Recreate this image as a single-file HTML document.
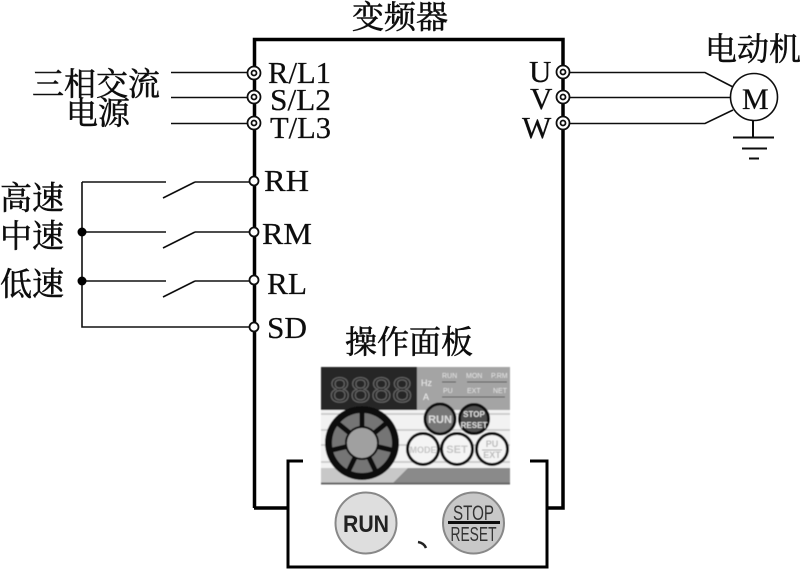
<!DOCTYPE html>
<html><head><meta charset="utf-8"><style>
html,body{margin:0;padding:0;background:#fff}
svg{display:block}
text{fill:#111}
.cn{font-family:"Liberation Serif","Noto Serif CJK SC",serif;font-size:32px;stroke:#111;stroke-width:.55px}
.la{font-family:"Liberation Serif",serif;font-size:31px;stroke:#111;stroke-width:.25px}
</style></head><body>
<svg width="800" height="569" viewBox="0 0 800 569" xmlns="http://www.w3.org/2000/svg">
<defs>
<filter id="b" x="-5%" y="-5%" width="110%" height="110%"><feGaussianBlur stdDeviation="0.6"/></filter>
<filter id="c" x="-5%" y="-5%" width="110%" height="110%"><feGaussianBlur stdDeviation="0.35"/></filter>
</defs>
<rect width="800" height="569" fill="#fff"/>
<g filter="url(#c)">
<!-- inverter box -->
<path d="M254.500 508V39.500H563V508H547M254 508H288" fill="none" stroke="#000" stroke-width="3.500"/>
<path d="M303 461H288V567H547V461H530" fill="none" stroke="#000" stroke-width="3"/>
<!-- input lines -->
<g stroke="#111" stroke-width="1.600" fill="none">
<path d="M171 72.500H247M171 97.500H247M171 123.500H247"/>
<path d="M568 72.500H705L733 87M568 97.500H730M568 123.500H705L733 110"/>
<circle cx="754" cy="97" r="23.500" fill="#fff"/>
<path d="M753 121V137M733 137.500H774M742 148.500H767M749 158.500H759" stroke-width="2"/>
<path d="M82 182H166M195 182H249M82 182V327H249M82 232H166M195 232H249M82 281H166M195 281H249"/>
<path d="M163 198L195 182M163 248L195 232M163 297L195 281"/>
</g>
<circle cx="82" cy="232" r="4.500" fill="#000"/>
<circle cx="82" cy="281" r="4.500" fill="#000"/>
<!-- terminals -->
<g fill="#fff" stroke="#111" stroke-width="1.800">
<circle cx="254" cy="73" r="6.500"/><circle cx="254" cy="73" r="2.500"/>
<circle cx="254" cy="97" r="6.500"/><circle cx="254" cy="97" r="2.500"/>
<circle cx="254" cy="123" r="6.500"/><circle cx="254" cy="123" r="2.500"/>
<circle cx="563" cy="72" r="6.500"/><circle cx="563" cy="72" r="2.500"/>
<circle cx="563" cy="97" r="6.500"/><circle cx="563" cy="97" r="2.500"/>
<circle cx="563" cy="123" r="6.500"/><circle cx="563" cy="123" r="2.500"/>
<circle cx="254" cy="181" r="4.500"/><circle cx="254" cy="232" r="4.500"/>
<circle cx="254" cy="280" r="4.500"/><circle cx="254" cy="327" r="4.500"/>
</g>
<!-- labels -->
<text class="cn" x="352" y="28">变频器</text>
<text class="cn" x="705" y="60">电动机</text>
<text class="cn" x="32" y="95">三相交流</text>
<text class="cn" x="66" y="124">电源</text>
<text class="cn" x="0" y="209">高速</text>
<text class="cn" x="0" y="247">中速</text>
<text class="cn" x="0" y="295">低速</text>
<text class="cn" x="345" y="353">操作面板</text>
<text class="la" x="268" y="83" textLength="63" lengthAdjust="spacingAndGlyphs">R/L1</text>
<text class="la" x="270" y="110" textLength="61" lengthAdjust="spacingAndGlyphs">S/L2</text>
<text class="la" x="270" y="138" textLength="61" lengthAdjust="spacingAndGlyphs">T/L3</text>
<text class="la" x="529" y="82">U</text>
<text class="la" x="530" y="109">V</text>
<text class="la" x="522" y="138">W</text>
<text class="la" x="742" y="109" style="font-size:30px">M</text>
<text class="la" x="264" y="191" textLength="45" lengthAdjust="spacingAndGlyphs">RH</text>
<text class="la" x="262" y="244" textLength="50" lengthAdjust="spacingAndGlyphs">RM</text>
<text class="la" x="267" y="294" textLength="40" lengthAdjust="spacingAndGlyphs">RL</text>
<text class="la" x="267" y="338" textLength="40" lengthAdjust="spacingAndGlyphs">SD</text>
</g>
<!-- panel -->
<g filter="url(#b)">
<rect x="321" y="367" width="189" height="116" fill="#d8d8d8"/>
<rect x="321" y="367" width="96" height="43" fill="#262626"/>
<rect x="417" y="367" width="93" height="43" fill="#a4a4a4"/>
<rect x="321" y="410" width="189" height="58" fill="#f2f2f2"/>
<path d="M321 414H510M321 430H510M321 445H510M321 462H510" stroke="#c4c4c4" stroke-width="1.500"/>
<rect x="321" y="468" width="189" height="15" fill="#c8c8c8"/>
<path d="M393 483L408 468H510V483Z" fill="#8a8a8a"/>
<path d="M321 483.500H510" stroke="#666" stroke-width="2"/>
<text x="329" y="402" textLength="84" style="fill:none;stroke:#626262;stroke-width:1.300px;font-size:36px;font-family:'Liberation Mono',monospace">8888</text>
<g style="font-family:'Liberation Sans',sans-serif;font-size:7px">
<text x="421" y="386" style="fill:#eee;font-size:9px">Hz</text>
<text x="423" y="400" style="fill:#eee;font-size:9px">A</text>
<text x="442" y="378" style="fill:#e4e4e4">RUN</text>
<text x="466" y="378" style="fill:#e4e4e4">MON</text>
<text x="491" y="378" style="fill:#e4e4e4">P.RM</text>
<text x="443" y="393" style="fill:#e4e4e4">PU</text>
<text x="467" y="393" style="fill:#e4e4e4">EXT</text>
<text x="493" y="393" style="fill:#e4e4e4">NET</text>
</g>
<path d="M442 382H456M467 382H507M442 397H505" stroke="#555" stroke-width="1"/>
<!-- dial -->
<circle cx="362" cy="443" r="37" fill="#111"/>
<circle cx="362" cy="443" r="23.500" fill="none" stroke="#757575" stroke-width="13"/>
<g stroke="#111" stroke-width="5">
<path d="M362 443V409"/>
<path d="M362 443L389 421"/>
<path d="M362 443L335 421"/>
<path d="M362 443L396 451"/>
<path d="M362 443L328 451"/>
<path d="M362 443L377 474"/>
<path d="M362 443L347 474"/>
</g>
<circle cx="362" cy="443" r="16" fill="#a0a0a0" stroke="#111" stroke-width="2"/>
<!-- panel buttons -->
<g stroke="#111" stroke-width="3">
<circle cx="440" cy="419" r="15" fill="#777"/>
<circle cx="474" cy="419" r="14.500" fill="#4e4e4e"/>
<circle cx="423" cy="449" r="15.500" fill="#f4f4f4"/>
<circle cx="457" cy="449" r="15.500" fill="#f4f4f4"/>
<circle cx="492" cy="449" r="15.500" fill="#f4f4f4"/>
</g>
<g style="font-family:'Liberation Sans',sans-serif;font-weight:bold" text-anchor="middle">
<text x="440" y="423" style="fill:#ddd;font-size:11px">RUN</text>
<text x="474" y="417" style="fill:#ddd;font-size:8px">STOP</text>
<text x="474" y="428" style="fill:#ddd;font-size:8px">RESET</text>
<text x="423" y="453" style="fill:#c4c4c4;font-size:9px">MODE</text>
<text x="457" y="453" style="fill:#c4c4c4;font-size:11px">SET</text>
<text x="492" y="447" style="fill:#bbb;font-size:9px">PU</text>
<text x="492" y="458" style="fill:#bbb;font-size:9px">EXT</text>
</g>
<path d="M482 450H502" stroke="#aaa" stroke-width="1"/>
</g>
<!-- large buttons -->
<g filter="url(#c)">
<circle cx="366" cy="523" r="30.500" fill="#dedede" stroke="#888" stroke-width="2"/>
<circle cx="473.500" cy="523" r="30.500" fill="#c8c8c8" stroke="#888" stroke-width="2"/>
<text x="366" y="532" text-anchor="middle" style="font-family:'Liberation Sans',sans-serif;font-weight:bold;font-size:24px;fill:#222" textLength="46" lengthAdjust="spacingAndGlyphs">RUN</text>
<text x="473.500" y="520" text-anchor="middle" style="font-family:'Liberation Sans',sans-serif;font-size:21px;fill:#333" textLength="41" lengthAdjust="spacingAndGlyphs">STOP</text>
<text x="473.500" y="541" text-anchor="middle" style="font-family:'Liberation Sans',sans-serif;font-size:20px;fill:#333" textLength="46" lengthAdjust="spacingAndGlyphs">RESET</text>
<path d="M448 522.500H500" stroke="#111" stroke-width="3"/>
<path d="M418 542Q424 543 426 548" stroke="#222" stroke-width="2.500" fill="none"/>
</g>
</svg>
</body></html>
